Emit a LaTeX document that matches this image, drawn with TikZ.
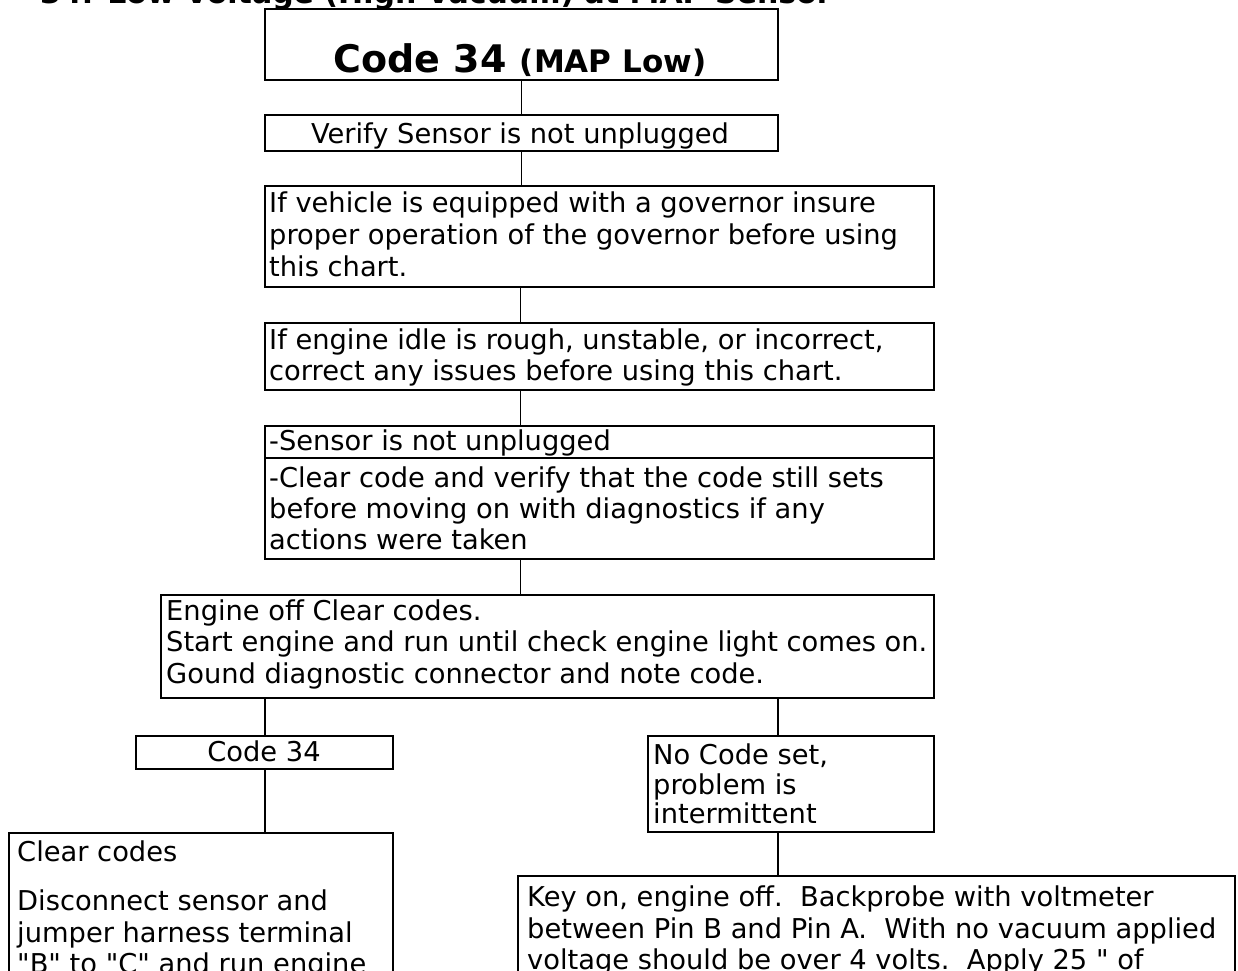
\documentclass[tikz,border=0pt]{standalone}
\usepackage{fontspec}
\setmainfont{DejaVu Sans}
\begin{document}
\begin{tikzpicture}[x=1pt,y=-1pt,
  box/.style={draw=black,line width=1.6pt,rectangle,inner sep=0pt,anchor=north west},
  link/.style={draw=black,line width=1.6pt},
  line/.style={anchor=base west,inner sep=0pt,font=\fontsize{27.3}{32}\selectfont},
  cline/.style={anchor=base,inner sep=0pt,font=\fontsize{27.3}{32}\selectfont}]
\useasboundingbox (0,0) rectangle (1238,970);

% page heading, cut by the top edge
\begin{scope}
  \clip (0,0) rectangle (1238,970);
  \node[anchor=base west,inner sep=0pt,font=\fontsize{30}{32}\selectfont\bfseries]
    (heading) at (40,3) {34. Low Voltage (High Vacuum) at MAP Sensor};
\end{scope}

% boxes
\node[box,minimum width=513,minimum height=71]  (title)  at (264,8)   {};
\node[box,minimum width=513,minimum height=36]  (verify) at (264,114) {};
\node[box,minimum width=669,minimum height=101] (gov)    at (264,185) {};
\node[box,minimum width=669,minimum height=67]  (idle)   at (264,322) {};
\node[box,minimum width=669,minimum height=133] (sensor) at (264,425) {};
\node[box,minimum width=773,minimum height=103] (engine) at (160,594) {};
\node[box,minimum width=257,minimum height=33]  (code)   at (135,735) {};
\node[box,minimum width=286,minimum height=96]  (nocode) at (647,735) {};
\node[box,minimum width=384,minimum height=200] (clear)  at (8,832)   {};
\node[box,minimum width=717,minimum height=200] (keyon)  at (517,875) {};

% divider inside the sensor box
\draw[link] (sensor.west |- 0,458) -- (sensor.east |- 0,458);

% connectors
\coordinate (spine) at (520.5,0);
\draw[link] (title.south) -- (verify.north);
\draw[link] (verify.south) -- (verify.south |- gov.north);
\draw[link] (spine |- gov.south) -- (spine |- idle.north);
\draw[link] (spine |- idle.south) -- (spine |- sensor.north);
\draw[link] (spine |- sensor.south) -- (spine |- engine.north);
\coordinate (leftdrop) at (265,0);
\coordinate (rightdrop) at (778,0);
\draw[link] (leftdrop |- engine.south) -- (leftdrop |- code.north);
\draw[link] (rightdrop |- engine.south) -- (rightdrop |- nocode.north);
\draw[link] (leftdrop |- code.south) -- (leftdrop |- clear.north);
\draw[link] (rightdrop |- nocode.south) -- (rightdrop |- keyon.north);

% texts
\node[anchor=base,inner sep=0pt] (title-t) at (520,72)
  {\fontsize{38}{40}\selectfont\bfseries Code 34 \fontsize{31}{33}\selectfont(MAP Low)};
\node[cline] (verify-t) at (520,143) {Verify Sensor is not unplugged};

\node[line] (gov-1) at (269,212) {If vehicle is equipped with a governor insure};
\node[line] (gov-2) at (269,244) {proper operation of the governor before using};
\node[line] (gov-3) at (269,276) {this chart.};

\node[line] (idle-1) at (269,349) {If engine idle is rough, unstable, or incorrect,};
\node[line] (idle-2) at (269,380) {correct any issues before using this chart.};

\node[line] (sensor-1) at (269,450) {-Sensor is not unplugged};
\node[line] (sensor-2) at (269,487) {-Clear code and verify that the code still sets};
\node[line] (sensor-3) at (269,518) {before moving on with diagnostics if any};
\node[line] (sensor-4) at (269,549) {actions were taken};

\node[line] (engine-1) at (166,620) {Engine off Clear codes.};
\node[line] (engine-2) at (166,651) {Start engine and run until check engine light comes on.};
\node[line] (engine-3) at (166,683) {Gound diagnostic connector and note code.};

\node[cline] (code-t) at (264,761) {Code 34};

\node[line] (nocode-1) at (653,764) {No Code set,};
\node[line] (nocode-2) at (653,794) {problem is};
\node[line] (nocode-3) at (653,823) {intermittent};

\node[line] (clear-1) at (17,861) {Clear codes};
\node[line] (clear-2) at (17,910) {Disconnect sensor and};
\node[line] (clear-3) at (17,942) {jumper harness terminal};
\node[line] (clear-4) at (17,973) {\textquotedbl B\textquotedbl{} to \textquotedbl C\textquotedbl{} and run engine};

\node[line] (keyon-1) at (527,906) {Key on, engine off.\ \ Backprobe with voltmeter};
\node[line] (keyon-2) at (527,938) {between Pin B and Pin A.\ \ With no vacuum applied};
\node[line] (keyon-3) at (527,969) {voltage should be over 4 volts.\ \ Apply 25 \textquotedbl{} of};
\end{tikzpicture}
\end{document}
